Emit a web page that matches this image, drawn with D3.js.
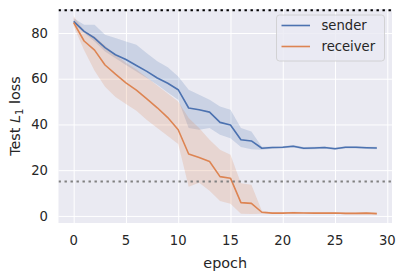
<!DOCTYPE html>
<html>
<head>
<meta charset="utf-8">
<script src="https://cdn.jsdelivr.net/npm/d3@7"></script>
<style>
  body { margin: 0; background: #fff; }
  svg text { font-family: "DejaVu Sans", sans-serif; fill: #262626; }
</style>
</head>
<body>
<svg width="403" height="274"></svg>
<script>
var epochs = [0, 1, 2, 3, 4, 5, 6, 7, 8, 9, 10, 11, 12, 13, 14, 15, 16, 17, 18, 19, 20, 21, 22, 23, 24, 25, 26, 27, 28, 29];

var senderMean = [85.1, 80.7, 77.8, 73.6, 70.5, 68.4, 65.8, 63.2, 60.3, 58.0, 55.2, 47.2, 46.4, 45.4, 40.9, 39.8, 33.3, 32.8, 29.6, 29.9, 30.0, 30.5, 29.6, 29.7, 29.9, 29.4, 30.0, 30.0, 29.8, 29.7];
var senderLow = [84.2, 80.0, 76.3, 71.9, 69.0, 66.0, 63.2, 60.3, 57.4, 54.0, 50.8, 38.4, 37.7, 38.4, 35.5, 34.0, 30.1, 29.2, 28.9, 29.4, 29.5, 30.0, 29.1, 29.2, 29.4, 28.9, 29.5, 29.5, 29.3, 29.2];
var senderHigh = [86.5, 83.6, 83.6, 79.2, 77.8, 76.3, 74.9, 71.2, 67.6, 65.0, 61.0, 55.2, 53.0, 50.8, 47.9, 46.4, 38.4, 36.9, 30.3, 30.4, 30.5, 31.0, 30.1, 30.2, 30.4, 29.9, 30.5, 30.5, 30.3, 30.2];

var receiverMean = [84.5, 76.5, 72.5, 66.0, 62.0, 58.2, 55.0, 51.2, 47.3, 43.0, 37.7, 27.1, 25.5, 23.8, 17.2, 16.5, 5.8, 5.5, 1.6, 1.2, 1.2, 1.4, 1.3, 1.2, 1.2, 1.3, 1.1, 1.1, 1.2, 1.0];
var receiverLow = [83.0, 72.5, 63.5, 56.5, 52.0, 49.0, 46.0, 42.0, 38.4, 35.0, 31.5, 12.8, 14.5, 11.0, 6.5, 5.3, 0.9, 0.8, 0.9, 0.8, 0.8, 1.0, 0.9, 0.8, 0.8, 0.9, 0.7, 0.7, 0.8, 0.6];
var receiverHigh = [87.3, 81.0, 78.5, 74.5, 70.5, 67.0, 64.0, 60.5, 57.0, 53.5, 50.0, 42.8, 38.4, 33.3, 28.9, 26.7, 14.3, 13.6, 2.3, 1.6, 1.6, 1.8, 1.7, 1.6, 1.6, 1.7, 1.5, 1.5, 1.6, 1.4];

var xTicks = [0, 5, 10, 15, 20, 25, 30];
var yTicks = [0, 20, 40, 60, 80];
var refLines = [90, 15];
var seriesNames = ["sender", "receiver"];

var svg = d3.select("svg"),
    margin = { top: 9, right: 11, bottom: 51, left: 58.5 },
    width = +svg.attr("width") - margin.left - margin.right,
    height = +svg.attr("height") - margin.top - margin.bottom;

var colors = ["#4c72b0", "#dd8452"];

var x = d3.scaleLinear().domain([-1.45, 30.45]).range([0, width]);
var y = d3.scaleLinear().domain([-3.1, 90.5]).range([height, 0]);

var g = svg.append("g")
    .attr("transform", "translate(" + margin.left + "," + margin.top + ")");

g.append("defs").append("clipPath").attr("id", "clip")
    .append("rect").attr("width", width).attr("height", height);

g.append("rect")
    .attr("width", width)
    .attr("height", height)
    .attr("fill", "#eaeaf2");

// grid
g.append("g")
    .attr("transform", "translate(0," + height + ")")
    .call(d3.axisBottom(x).tickValues(xTicks).tickSize(-height).tickFormat("").tickSizeOuter(0))
    .call(function (s) {
        s.select(".domain").remove();
        s.selectAll("line").attr("stroke", "#fff").attr("stroke-width", 1);
    });
g.append("g")
    .call(d3.axisLeft(y).tickValues(yTicks).tickSize(-width).tickFormat("").tickSizeOuter(0))
    .call(function (s) {
        s.select(".domain").remove();
        s.selectAll("line").attr("stroke", "#fff").attr("stroke-width", 1);
    });

// tick labels
g.selectAll(".xlab")
    .data(xTicks)
    .enter().append("text")
    .attr("x", function (d) { return x(d); })
    .attr("y", height + 22)
    .attr("text-anchor", "middle")
    .style("font-size", "13.2px")
    .text(function (d) { return d; });

g.selectAll(".ylab")
    .data(yTicks)
    .enter().append("text")
    .attr("x", -10.5)
    .attr("y", function (d) { return y(d); })
    .attr("dy", "0.35em")
    .attr("text-anchor", "end")
    .style("font-size", "13.2px")
    .text(function (d) { return d; });

var plot = g.append("g").attr("clip-path", "url(#clip)");

var series = [
    { mean: senderMean, low: senderLow, high: senderHigh },
    { mean: receiverMean, low: receiverLow, high: receiverHigh }
];

var area = d3.area()
    .x(function (d, i) { return x(epochs[i]); })
    .y0(function (d) { return y(d[0]); })
    .y1(function (d) { return y(d[1]); });

var line = d3.line()
    .x(function (d, i) { return x(epochs[i]); })
    .y(function (d) { return y(d); });

series.forEach(function (s, k) {
    plot.append("path")
        .datum(s.low.map(function (v, i) { return [v, s.high[i]]; }))
        .attr("fill", colors[k])
        .attr("fill-opacity", 0.2)
        .attr("d", area);
});

series.forEach(function (s, k) {
    plot.append("path")
        .datum(s.mean)
        .attr("fill", "none")
        .attr("stroke", colors[k])
        .attr("stroke-width", 1.6)
        .attr("stroke-linejoin", "round")
        .attr("d", line);
});

// reference lines
plot.selectAll(".ref")
    .data(refLines)
    .enter().append("line")
    .attr("x1", 0)
    .attr("x2", width)
    .attr("y1", function (d) { return y(d); })
    .attr("y2", function (d) { return y(d); })
    .attr("stroke", function (d, i) { return i === 0 ? "#000" : "#808080"; })
    .attr("stroke-width", 2)
    .attr("stroke-dasharray", "2.4,3.6");

// axis labels
g.append("text")
    .attr("x", width / 2)
    .attr("y", height + 45)
    .attr("text-anchor", "middle")
    .style("font-size", "14.4px")
    .text("epoch");

var yl = svg.append("text")
    .attr("transform", "translate(20," + (margin.top + height / 2) + ") rotate(-90)")
    .attr("text-anchor", "middle")
    .style("font-size", "14.4px");
yl.append("tspan").text("Test ");
yl.append("tspan").style("font-style", "italic").text("L");
yl.append("tspan").attr("dy", 3).style("font-size", "10px").text("1");
yl.append("tspan").attr("dy", -3).text(" loss");

// legend
var leg = g.append("g").attr("transform", "translate(" + (width - 115.5) + ",6)");
leg.append("rect")
    .attr("width", 108)
    .attr("height", 46)
    .attr("rx", 3)
    .attr("fill", "#eaeaf2")
    .attr("fill-opacity", 0.8)
    .attr("stroke", "#cccccc")
    .attr("stroke-width", 0.8);

seriesNames.forEach(function (name, i) {
    leg.append("line")
        .attr("x1", 5)
        .attr("x2", 33.5)
        .attr("y1", 10.5 + i * 21)
        .attr("y2", 10.5 + i * 21)
        .attr("stroke", colors[i])
        .attr("stroke-width", 1.6);
    leg.append("text")
        .attr("x", 45)
        .attr("y", 10.5 + i * 21)
        .attr("dy", "0.35em")
        .style("font-size", "13.2px")
        .text(name);
});
</script>
</body>
</html>
